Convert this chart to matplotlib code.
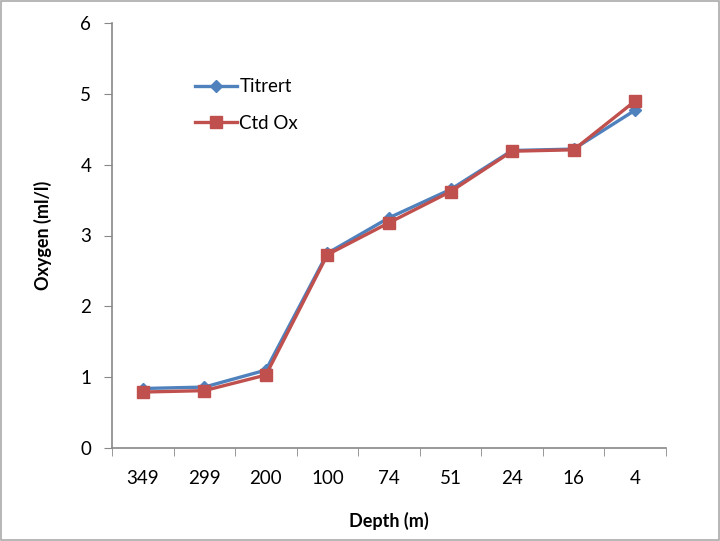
import matplotlib
matplotlib.use("Agg")
import matplotlib.pyplot as plt
import numpy as np

depths = ["349", "299", "200", "100", "74", "51", "24", "16", "4"]
titrert = [0.84, 0.86, 1.10, 2.75, 3.25, 3.65, 4.20, 4.22, 4.77]
ctd_ox = [0.79, 0.81, 1.03, 2.73, 3.18, 3.62, 4.19, 4.21, 4.90]

plt.rcParams['font.family'] = ['Lato', 'DejaVu Sans']

fig = plt.figure(figsize=(7.2, 5.41), dpi=100)
ax = fig.add_axes([112/720, 1-448/541, (666-112)/720, (448-23)/541])

x = np.arange(len(depths))
ax.plot(x, titrert, color='#4F81BD', lw=2.4, marker='D', ms=6, label='Titrert', zorder=3)
ax.plot(x, ctd_ox, color='#C0504D', lw=2.4, marker='s', ms=8.5, label='Ctd Ox', zorder=4)

ax.set_xlim(-0.5, len(depths) - 0.5)
ax.set_ylim(0, 6)
ax.set_yticks(range(0, 7))
ax.set_xticks(x)
ax.set_xticklabels(depths)
ax.set_xticks(np.arange(-0.5, len(depths)), minor=True)
ax.tick_params(axis='x', which='major', length=0, pad=16, labelsize=13.5)
ax.tick_params(axis='x', which='minor', length=6, color='#888888', direction='out')
ax.tick_params(axis='y', length=6, color='#888888', direction='out', labelsize=13.5, pad=9)

for s in ['top', 'right']:
    ax.spines[s].set_visible(False)
for s in ['left', 'bottom']:
    ax.spines[s].set_color('#888888')
    ax.spines[s].set_linewidth(1.2)

ax.set_xlabel('Depth (m)', fontsize=13, fontweight='bold', labelpad=18)
ax.set_ylabel('Oxygen (ml/l)', fontsize=13, fontweight='bold', labelpad=20)

ax.legend(loc='upper left', bbox_to_anchor=(0.12, 0.91), frameon=False, fontsize=13.5,
          handlelength=2.2, labelspacing=1.05, handletextpad=0.15)

fig.patches.append(plt.Rectangle((0.001, 0.001), 0.997, 0.997, transform=fig.transFigure,
                                 fill=False, edgecolor='#AAAAAA', lw=1.2))

fig.savefig('out.png', dpi=100)
